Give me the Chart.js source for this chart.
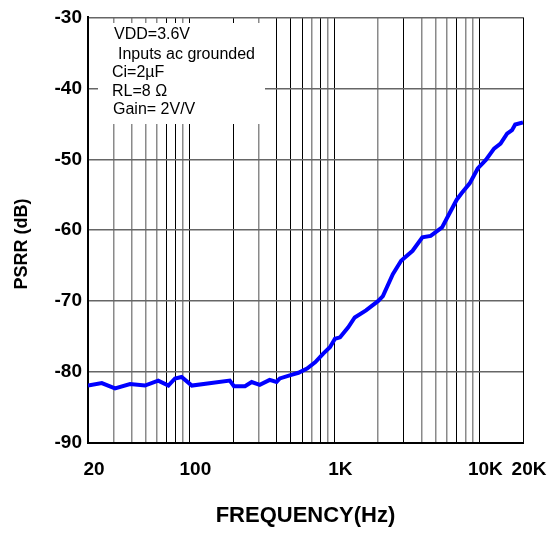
<!DOCTYPE html>
<html>
<head>
<meta charset="utf-8">
<script src="https://cdn.jsdelivr.net/npm/chart.js@4"></script>
<style>
  html, body { margin: 0; padding: 0; background: #fff; }
  #c { display: block; }
</style>
</head>
<body>
<canvas id="c" width="556" height="533"></canvas>
<script>
// frequency (Hz) and PSRR (dB)
const freqs = [20, 24.9, 30.7, 39, 49.4, 61, 71.7, 79.6, 88.4, 104, 190, 203, 242, 269, 306, 358, 399, 421, 505, 565, 648,
  740, 838, 932, 1010, 1095, 1246, 1382, 1653, 1999, 2162, 2531, 2887, 3464, 4045, 4617, 5530, 6980, 7540, 8580,
  9750, 11090, 12630, 14000, 15530, 16800, 17670, 20000];
const psrr = [-81.9, -81.55, -82.3, -81.7, -81.9, -81.2, -81.9, -80.9, -80.7, -81.9, -81.2, -82.0, -82.0, -81.4, -81.8, -81.1, -81.4, -80.9, -80.4, -80.1, -79.5,
  -78.6, -77.4, -76.5, -75.3, -75.1, -73.7, -72.3, -71.3, -70.0, -69.3, -66.2, -64.3, -62.9, -61.0, -60.8, -59.6, -55.7, -54.8, -53.4,
  -51.3, -50.1, -48.5, -47.8, -46.4, -45.9, -45.1, -44.8];

const xGrid = [20, 30, 40, 50, 60, 70, 80, 90, 100, 200, 300, 400, 500, 600, 700, 800, 900,
  1000, 2000, 3000, 4000, 5000, 6000, 7000, 8000, 9000, 10000, 20000];
const xLabels = { 20: '20', 100: '100', 1000: '1K', 10000: '10K', 20000: '20K' };
const grayLines = [30, 40, 50, 60, 90, 300, 700, 900, 2000, 4000, 5000, 6000, 8000, 9000];
const yMin = -90, yMax = -30, yStep = 10;

const notes = [
  { t: 'VDD=3.6V', x: 114, y: 35 },
  { t: 'Inputs ac grounded', x: 118, y: 55 },
  { t: 'Ci=2\u00b5F', x: 112, y: 73 },
  { t: 'RL=8 \u03a9', x: 112, y: 92 },
  { t: 'Gain= 2V/V', x: 113, y: 110 }
];

const fam = '"Liberation Sans", Arial, sans-serif';

// white note box over the grid, plus the y axis title
const extras = {
  id: 'extras',
  beforeDatasetsDraw(chart) {
    const ctx = chart.ctx;
    ctx.save();
    ctx.fillStyle = '#fff';
    ctx.fillRect(98, 23, 167, 101);
    ctx.fillStyle = '#000';
    ctx.font = '16px ' + fam;
    ctx.textBaseline = 'middle';
    notes.forEach(n => ctx.fillText(n.t, n.x, n.y));
    ctx.restore();
  },
  afterDraw(chart) {
    const ctx = chart.ctx;
    ctx.save();
    ctx.translate(22, 244);
    ctx.rotate(-Math.PI / 2);
    ctx.fillStyle = '#000';
    ctx.font = 'bold 18px ' + fam;
    ctx.textAlign = 'center';
    ctx.textBaseline = 'middle';
    ctx.fillText('PSRR (dB)', 0, 0);
    ctx.restore();
  }
};

const bold = { family: fam, weight: 'bold', size: 19 };

new Chart(document.getElementById('c'), {
  type: 'line',
  data: {
    datasets: [{
      data: freqs.map((f, i) => ({ x: f, y: psrr[i] })),
      borderColor: '#0000ff',
      borderWidth: 4,
      pointRadius: 0,
      tension: 0,
      fill: false
    }]
  },
  options: {
    responsive: false,
    animation: false,
    layout: { padding: { left: 0, top: 15, right: 33, bottom: 0 } },
    plugins: { legend: { display: false }, tooltip: { enabled: false } },
    scales: {
      x: {
        type: 'logarithmic',
        min: 20, max: 20000,
        afterBuildTicks: s => { s.ticks = xGrid.map(v => ({ value: v })); },
        afterFit: s => { s.height = 90; },
        grid: {
          drawTicks: false,
          color: c => grayLines.includes(c.tick && c.tick.value) ? '#8a8a8a' : '#000',
          lineWidth: c => grayLines.includes(c.tick && c.tick.value) ? 1.5 : 1
        },
        border: { color: '#000', width: 2 },
        ticks: {
          autoSkip: false, maxRotation: 0, padding: 15, labelOffset: 6,
          color: '#000', font: bold,
          callback: v => xLabels[v] || ''
        },
        title: {
          display: true, text: 'FREQUENCY(Hz)', color: '#000',
          font: { family: fam, weight: 'bold', size: 22 },
          padding: { top: 0, bottom: 4 }
        }
      },
      y: {
        min: yMin, max: yMax,
        afterFit: s => { s.width = 88; },
        grid: { drawTicks: false, color: '#666', lineWidth: 1.5 },
        border: { color: '#000', width: 2 },
        ticks: { stepSize: yStep, padding: 6, color: '#000', font: bold }
      }
    }
  },
  plugins: [extras]
});
</script>
</body>
</html>
